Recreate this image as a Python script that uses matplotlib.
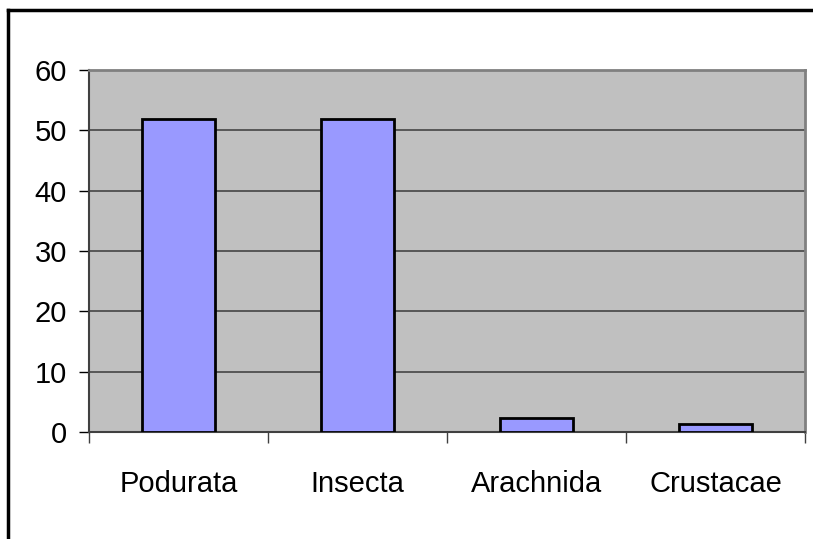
import numpy as np
import matplotlib.pyplot as plt
from matplotlib.lines import Line2D

plt.rcParams['font.family'] = ['Liberation Sans', 'DejaVu Sans']

# data
categories = ['Podurata', 'Insecta', 'Arachnida', 'Crustacae']
values = [51.8, 51.8, 2.3, 1.4]
yticks = [0, 10, 20, 30, 40, 50, 60]

fig = plt.figure(figsize=(8.13, 5.39), dpi=100)
ax = fig.add_axes([89/813, 107/539, 716/813, 362/539])
ax.set_facecolor('#C0C0C0')

x = np.arange(len(categories))
ax.set_axisbelow(True)
ax.yaxis.grid(True, color='#3a3a3a', lw=1.1)
ax.bar(x, values, width=0.41, color='#9999FF', edgecolor='black', lw=2, zorder=3)

ax.set_xlim(-0.5, len(categories) - 0.5)
ax.set_ylim(0, 60)
ax.set_yticks(yticks)
ax.set_yticklabels([str(t) for t in yticks], fontsize=21)
ax.tick_params(axis='y', length=7, width=1, pad=9, color='black')

ax.set_xticks(x)
ax.set_xticklabels(categories, fontsize=21)
ax.tick_params(axis='x', length=0, pad=27)
ax.set_xticks(np.arange(len(categories) + 1) - 0.5, minor=True)
ax.tick_params(axis='x', which='minor', length=8, width=1, color='#404040')

for side in ['top', 'right']:
    ax.spines[side].set_color('#808080')
    ax.spines[side].set_linewidth(2)
ax.spines['left'].set_color('#404040')
ax.spines['bottom'].set_color('#404040')
ax.spines['left'].set_linewidth(1.5)
ax.spines['bottom'].set_linewidth(1.5)

# outer chart border (only left and top visible)
fig.add_artist(Line2D([8/813, 8/813], [0, 1 - 10/539], color='black', lw=2.5,
                      transform=fig.transFigure))
fig.add_artist(Line2D([8/813, 1], [1 - 10/539, 1 - 10/539], color='black', lw=2.5,
                      transform=fig.transFigure))

fig.savefig('out.png', dpi=100)
